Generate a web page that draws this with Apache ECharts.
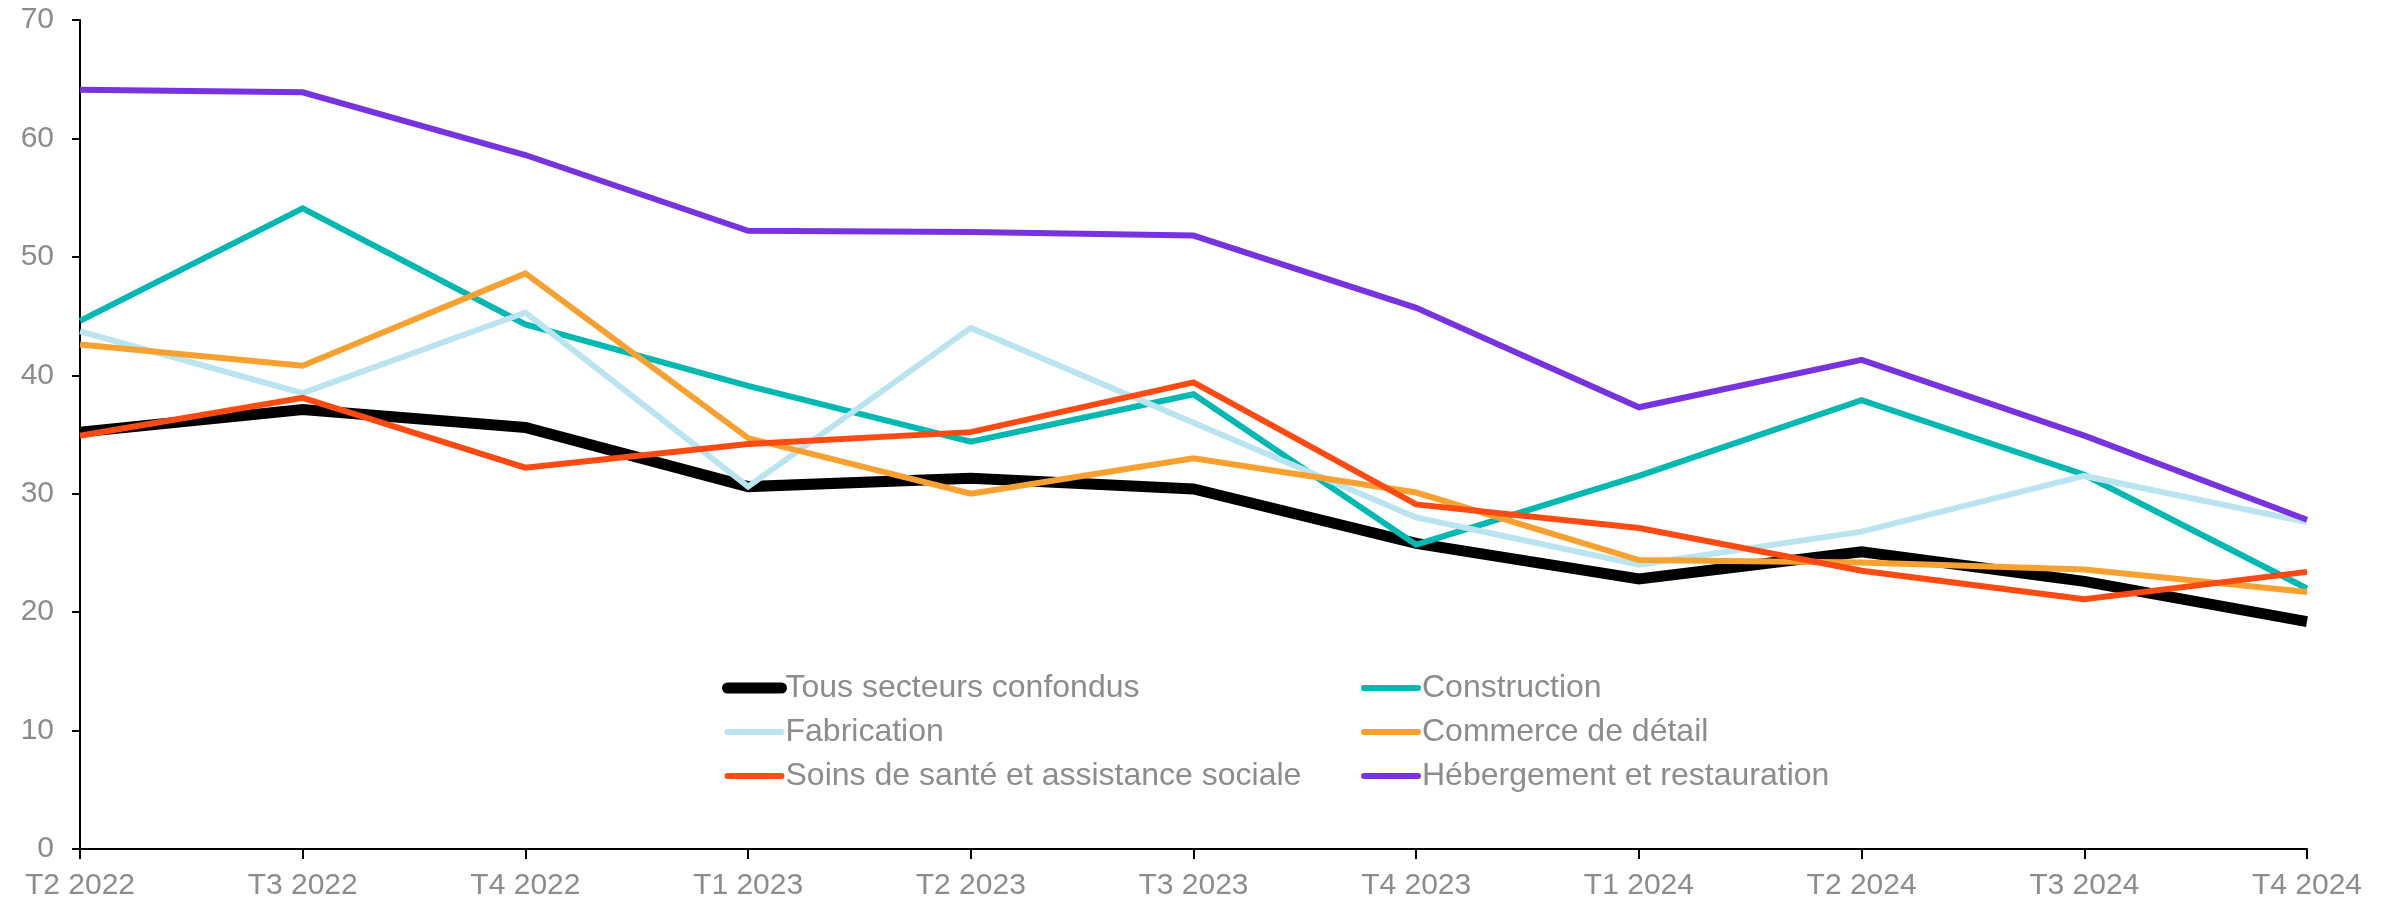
<!DOCTYPE html>
<html>
<head>
<meta charset="utf-8">
<script src="https://cdn.jsdelivr.net/npm/echarts@6/dist/echarts.min.js"></script>
<style>
  html, body { margin: 0; padding: 0; background: #fff; }
  #chart { width: 2397px; height: 903px; }
</style>
</head>
<body>
<div id="chart"></div>
<script>
// 季度
const quarters = ['T2 2022', 'T3 2022', 'T4 2022', 'T1 2023', 'T2 2023', 'T3 2023',
  'T4 2023', 'T1 2024', 'T2 2024', 'T3 2024', 'T4 2024'];

// 各行业数据
const tousSecteurs = [35.2, 37.1, 35.6, 30.6, 31.3, 30.4, 25.8, 22.8, 25.1, 22.6, 19.2];
const construction = [44.6, 54.1, 44.3, 39.1, 34.4, 38.4, 25.7, 31.5, 37.9, 31.6, 22.0];
const fabrication = [43.7, 38.5, 45.3, 30.6, 44.0, 36.0, 28.0, 24.0, 26.8, 31.5, 27.6];
const commerce = [42.6, 40.8, 48.6, 34.7, 30.0, 33.0, 30.1, 24.4, 24.2, 23.6, 21.7];
const soinsSante = [34.9, 38.1, 32.2, 34.2, 35.2, 39.4, 29.1, 27.1, 23.5, 21.1, 23.4];
const hebergement = [64.1, 63.9, 58.6, 52.2, 52.1, 51.8, 45.7, 37.3, 41.3, 34.9, 27.8];

const yTicks = [0, 10, 20, 30, 40, 50, 60, 70];

const labelColor = '#8c8c8c';
const fontFamily = '"Liberation Sans", Arial, sans-serif';

// 生成折线配置
const makeLine = (name, data, color, width) => ({
  name: name,
  type: 'line',
  symbol: 'none',
  data: data,
  itemStyle: { color: color },
  lineStyle: { color: color, width: width, join: 'miter', cap: 'butt' }
});

const legendCommon = {
  orient: 'vertical',
  padding: 0,
  itemWidth: 54,
  itemHeight: 14,
  itemGap: 12,
  lineStyle: { width: 'inherit', cap: 'round' },
  itemStyle: { opacity: 0 },
  textStyle: { color: labelColor, fontSize: 32, fontFamily: fontFamily, padding: [0, 0, 0, -1] },
  selectedMode: false
};

const chart = echarts.init(document.getElementById('chart'));

chart.setOption({
  animation: false,
  backgroundColor: '#fff',
  grid: { left: 80, right: 90, top: 20, bottom: 54, containLabel: false },
  legend: [
    Object.assign({}, legendCommon, {
      left: 722, top: 672,
      data: ['Tous secteurs confondus', 'Fabrication', 'Soins de santé et assistance sociale']
    }),
    Object.assign({}, legendCommon, {
      left: 1361, top: 672,
      data: ['Construction', 'Commerce de détail', 'Hébergement et restauration']
    })
  ],
  xAxis: {
    type: 'category',
    boundaryGap: false,
    data: quarters,
    axisLine: { lineStyle: { color: '#000', width: 2 } },
    axisTick: { show: true, length: 10, lineStyle: { color: '#000', width: 2 } },
    axisLabel: { color: labelColor, fontSize: 30, fontFamily: fontFamily, margin: 22, interval: 0 },
    splitLine: { show: false }
  },
  yAxis: {
    type: 'value',
    min: yTicks[0],
    max: yTicks[yTicks.length - 1],
    interval: 10,
    axisLine: { show: true, lineStyle: { color: '#000', width: 2 } },
    axisTick: { show: true, length: 8, lineStyle: { color: '#000', width: 2 } },
    axisLabel: { color: labelColor, fontSize: 30, fontFamily: fontFamily, margin: 26 },
    splitLine: { show: false }
  },
  series: [
    makeLine('Tous secteurs confondus', tousSecteurs, '#000000', 11),
    makeLine('Construction', construction, '#00b8b2', 6),
    makeLine('Fabrication', fabrication, '#b9e4f0', 6),
    makeLine('Commerce de détail', commerce, '#f8a131', 6),
    makeLine('Soins de santé et assistance sociale', soinsSante, '#ff4a12', 6),
    makeLine('Hébergement et restauration', hebergement, '#7833e0', 6)
  ]
});
</script>
</body>
</html>
